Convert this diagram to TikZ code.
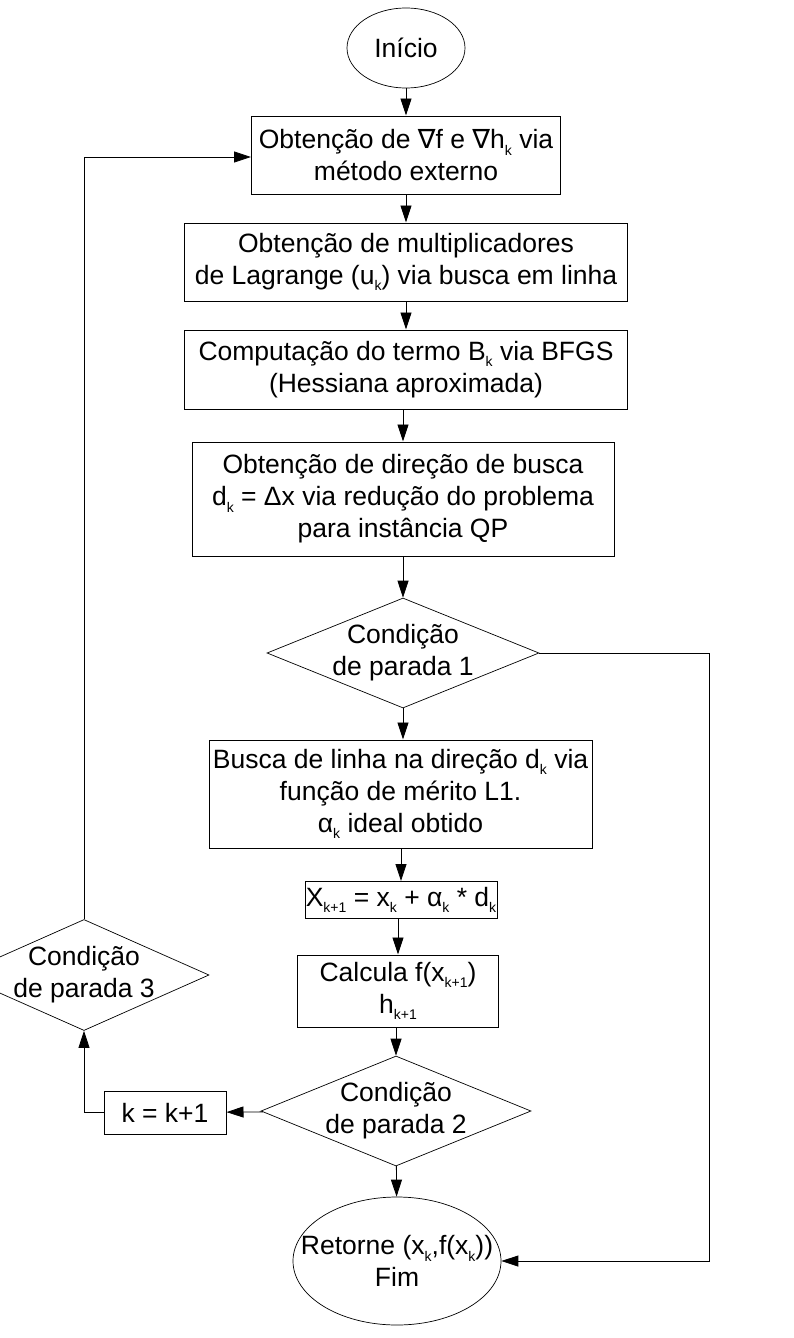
\documentclass[tikz,border=0pt]{standalone}
\usepackage{fontspec}
\setmainfont{Liberation Sans}
\newfontfamily\symfont{DejaVu Sans}
\usetikzlibrary{shapes.geometric,arrows.meta}
\newcommand{\sbk}[1]{\raisebox{-0.25em}{\fontsize{14}{14}\selectfont #1}}
\newcommand{\nab}{{\symfont\char"2207}}
\tikzset{
  base/.style={align=center, inner sep=0pt, font=\fontsize{26.5}{32}\selectfont},
  box/.style={base, draw, rectangle, line width=1pt},
  dia/.style={draw, diamond, inner sep=0pt, line width=0.7pt, aspect=2.5},
  ell/.style={draw, ellipse, inner sep=0pt, line width=0.7pt},
  txt/.style={base},
  arr/.style={-{Triangle[length=17pt,width=11pt]}, line width=0.8pt}
}
\begin{document}
\begin{tikzpicture}[x=1pt,y=-1pt]
\useasboundingbox (0,0) rectangle (794,1338);
\node[ell, minimum width=118, minimum height=80] (start) at (406,48) {};
\node[txt] (tstart) at (start) {Início};
\node[box, minimum width=309, minimum height=78] (b1) at (406,155) {Obtenção de \nab f e \nab h\sbk{k} via\\método externo};
\node[box, minimum width=443, minimum height=78] (b2) at (406,262) {Obtenção de multiplicadores\\de Lagrange (u\sbk{k}) via busca em linha};
\node[box, minimum width=443, minimum height=79] (b3) at (406,369.5) {Computação do termo B\sbk{k} via BFGS\\(Hessiana aproximada)};
\node[box, minimum width=422, minimum height=114] (b4) at (403,499) {Obtenção de direção de busca\\d\sbk{k} = Δx via redução do problema\\para instância QP};
\node[dia, minimum width=272, minimum height=110] (d1) at (403,653) {};
\node[txt] (td1) at (d1) {Condição\\de parada 1};
\node[box, minimum width=383, minimum height=108] (b5) at (400.5,794) {Busca de linha na direção d\sbk{k} via\\função de mérito L1.\\α\sbk{k} ideal obtido};
\node[box, minimum width=192, minimum height=37] (b6) at (401,900) {X\sbk{k+1} = x\sbk{k} + α\sbk{k} * d\sbk{k}};
\node[box, minimum width=201, minimum height=72] (b7) at (398,991) {Calcula f(x\sbk{k+1})\\h\sbk{k+1}};
\node[dia, minimum width=270, minimum height=110] (d2) at (396,1111) {};
\node[txt] (td2) at (d2) {Condição\\de parada 2};
\node[box, minimum width=122, minimum height=43] (kb) at (165,1112.5) {k = k+1};
\node[dia, minimum width=250, minimum height=111] (d3) at (84,975) {};
\node[txt] (td3) at (d3) {Condição\\de parada 3};
\node[ell, minimum width=208, minimum height=128] (fim) at (397,1261) {};
\node[txt] (tfim) at (fim) {Retorne (x\sbk{k},f(x\sbk{k}))\\Fim};
\coordinate (rc) at (709,1261);
\coordinate (lc) at (84,157);
\draw[arr] (start) -- (b1);
\draw[arr] (b1) -- (b2);
\draw[arr] (b2) -- (b3);
\draw[arr] (b3.south -| b4) -- (b4);
\draw[arr] (b4) -- (d1);
\draw[arr] (d1) -- (d1 |- b5.north);
\draw[arr] (b5.south -| b6) -- (b6);
\draw[arr] (b6.south -| b7) -- (b7);
\draw[arr] (b7.south -| d2) -- (d2);
\draw[arr] (d2) -- (fim);
\draw[arr] (d2) -- (kb);
\draw[arr] (kb.west) -| (d3.south);
\draw[arr] (d3.north) -- (lc) -- (b1.west |- lc);
\draw[arr] (d1.east) -| (rc) -- (fim.east);
\end{tikzpicture}
\end{document}
